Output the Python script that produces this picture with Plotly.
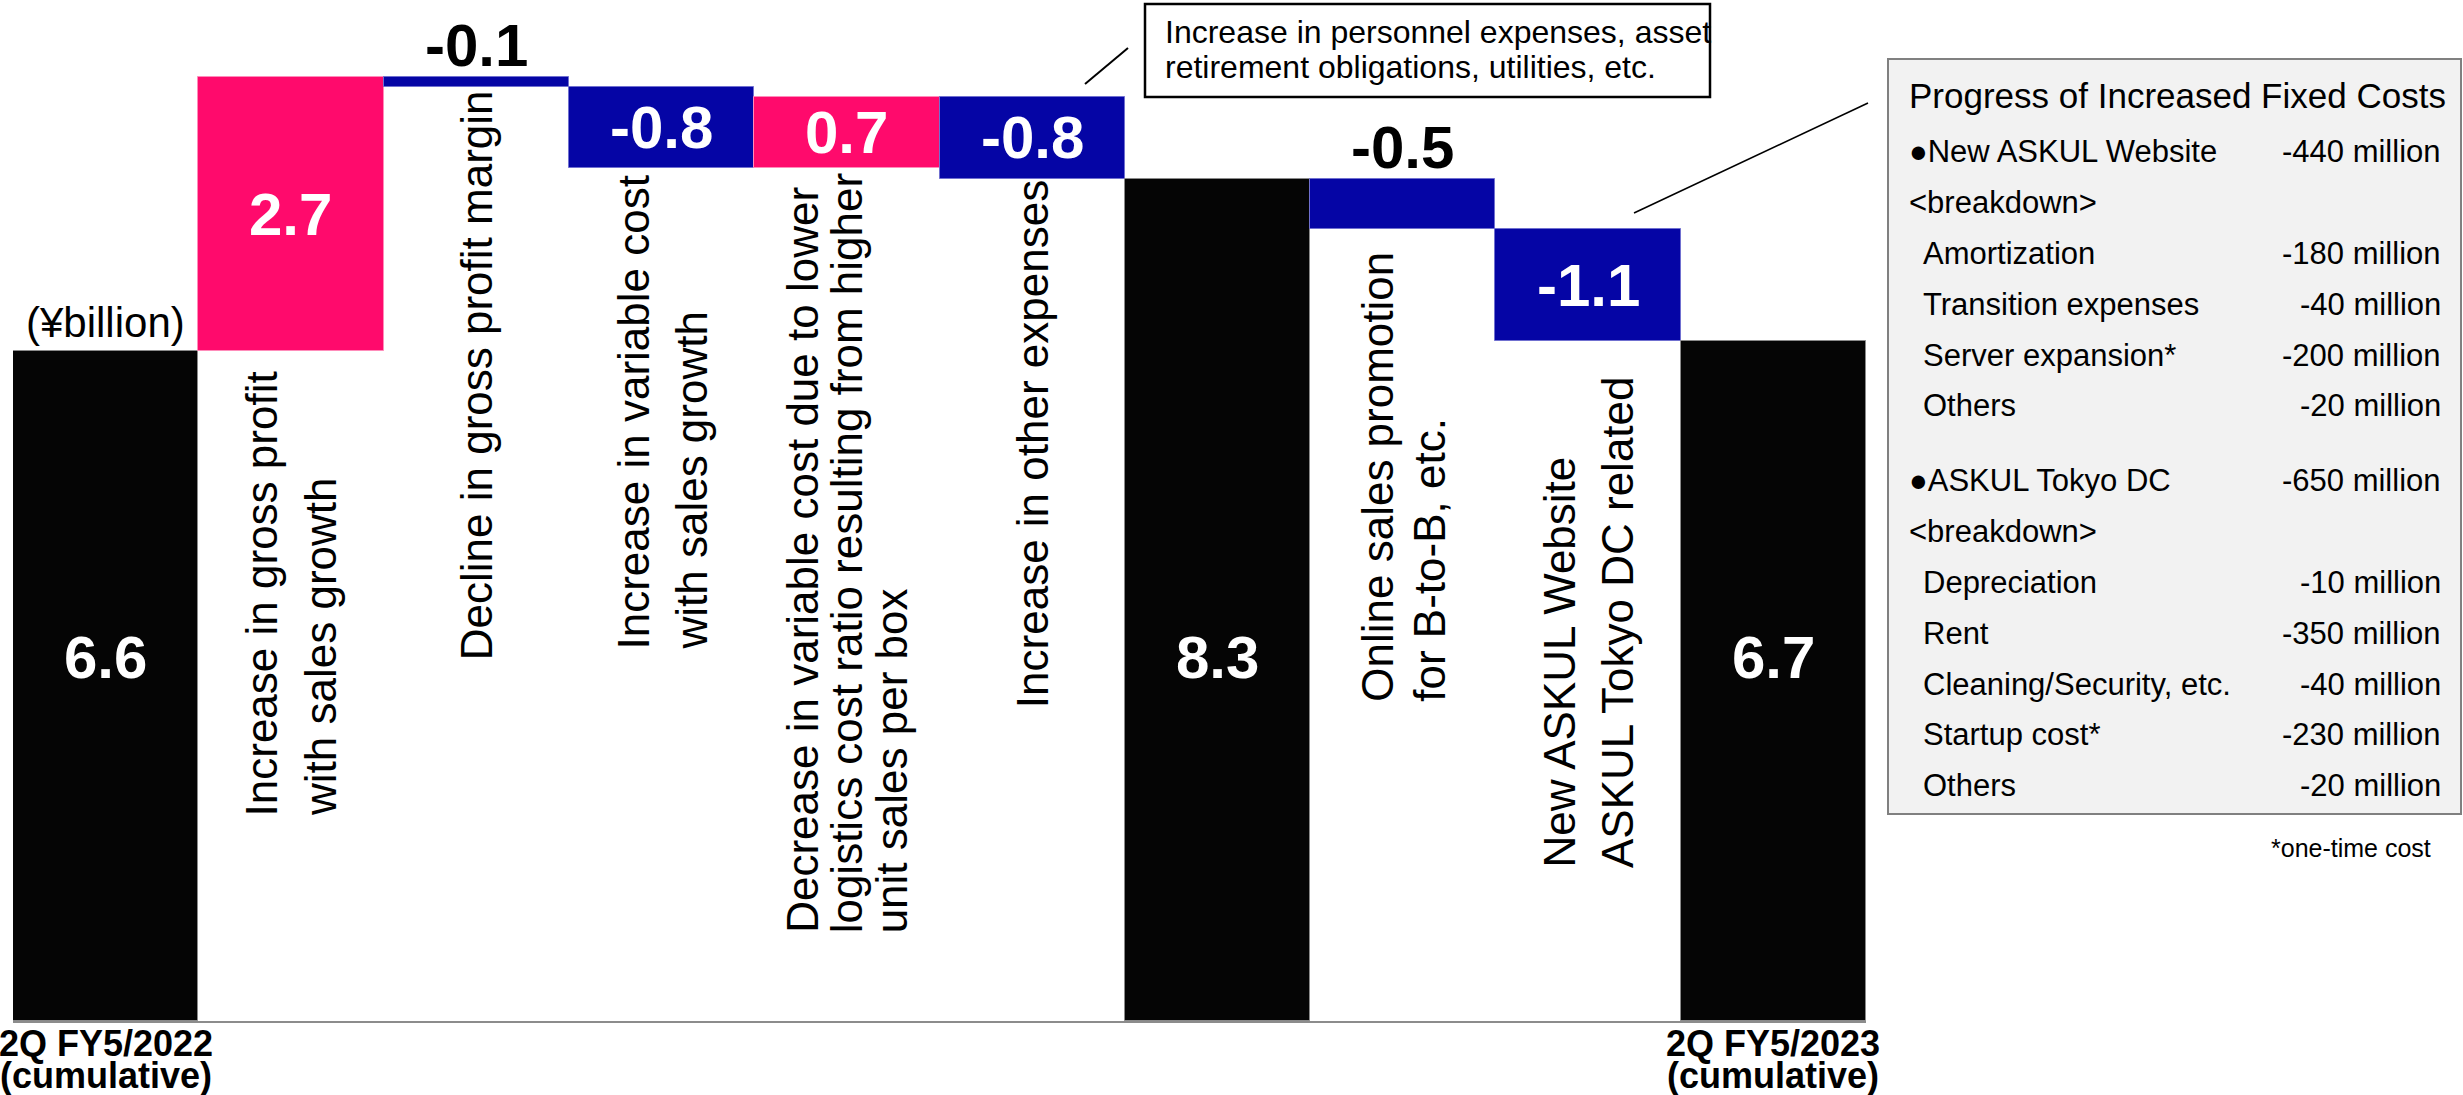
import plotly.graph_objects as go

# ---------------- data (¥billion) ----------------
step_values = [6.6, 2.7, -0.1, -0.8, 0.7, -0.8, 0, -0.5, -1.1, 0]
step_measures = ["absolute", "relative", "relative", "relative", "relative",
                 "relative", "total", "relative", "relative", "total"]
step_label_lines = [
    [],
    ["Increase in gross profit", "with sales growth"],
    ["Decline in gross profit margin"],
    ["Increase in variable cost", "with sales growth"],
    ["Decrease in variable cost due to lower",
     "logistics cost ratio resulting from higher",
     "unit sales per box"],
    ["Increase in other expenses"],
    [],
    ["Online sales promotion", "for B-to-B, etc."],
    ["New ASKUL Website", "ASKUL Tokyo DC related"],
    [],
]
period_labels = {0: ["2Q FY5/2022", "(cumulative)"],
                 9: ["2Q FY5/2023", "(cumulative)"]}
unit_label = "(¥billion)"

other_expense_note = ["Increase in personnel expenses, asset",
                      "retirement obligations, utilities, etc."]

fixed_cost_title = "Progress of Increased Fixed Costs"
fixed_cost_items = ["●New ASKUL Website", "<breakdown>", "Amortization",
                    "Transition expenses", "Server expansion*", "Others",
                    "●ASKUL Tokyo DC", "<breakdown>", "Depreciation", "Rent",
                    "Cleaning/Security, etc.", "Startup cost*", "Others"]
fixed_cost_amounts = ["-440 million", "", "-180 million", "-40 million",
                      "-200 million", "-20 million", "-650 million", "",
                      "-10 million", "-350 million", "-40 million",
                      "-230 million", "-20 million"]
fixed_cost_footnote = "*one-time cost"

# ---------------- styling ----------------
W, H = 2463, 1095
BASE_PX = 1021          # pixel row of the zero line
PX_PER_UNIT = 101.5     # vertical pixels per ¥1 billion
X0_PX, X1_PX = 13, 1866

PINK, BLUE, BLACK = "#FF0A6C", "#0505A5", "#050505"
SANS = "Liberation Sans, Arial, sans-serif"

# start (lower end) of the rotated step captions and their line pitch, px
label_start_px = [None, 818, 662, 652, 935, 710, None, 704, 870, None]
label_pitch_px = [0, 58, 0, 58, 45, 0, 0, 52, 58, 0]
row_indent = [0, 0, 1, 1, 1, 1, 0, 0, 1, 1, 1, 1, 1]
row_group = [0, 0, 0, 0, 0, 0, 1, 1, 1, 1, 1, 1, 1]


def y_of(px):
    return (BASE_PX - px) / PX_PER_UNIT


def pxx(px):
    return px / W


def pxy(px):
    return 1 - px / H


def esc(s):
    return s.replace("&", "&amp;").replace("<", "&lt;").replace(">", "&gt;")


x = list(range(len(step_values)))

fig = go.Figure(go.Waterfall(
    x=x, y=step_values, measure=step_measures,
    increasing=dict(marker=dict(color=PINK, line=dict(color="#FF8CBA", width=1))),
    decreasing=dict(marker=dict(color=BLUE, line=dict(color="#7070D0", width=1))),
    totals=dict(marker=dict(color=BLACK, line=dict(color="#8A8A8A", width=1))),
    connector=dict(visible=False),
    textinfo="none", hoverinfo="skip",
))

annotations = []
shapes = []

# running level of the waterfall, used to place the value captions
level = 0.0
for k, (v, m) in enumerate(zip(step_values, step_measures)):
    if m == "absolute":
        lo, hi, val = 0.0, v, v
        level = v
    elif m == "total":
        lo, hi, val = 0.0, level, level
    else:
        lo, hi = sorted([level, level + v])
        val = v
        level += v
    txt = f"<b>{val:.1f}</b>"
    if m != "relative":
        annotations.append(dict(x=k, y=y_of(657), text=txt, showarrow=False,
                                xanchor="center", yanchor="middle",
                                font=dict(family=SANS, size=60, color="white")))
    elif abs(v) >= 0.6:
        annotations.append(dict(x=k, y=(lo + hi) / 2, text=txt, showarrow=False,
                                xanchor="center", yanchor="middle",
                                font=dict(family=SANS, size=60, color="white")))
    else:
        annotations.append(dict(x=k, y=hi, xanchor="center", yanchor="bottom",
                                yshift=-4, text=txt, showarrow=False,
                                font=dict(family=SANS, size=60, color="black")))

    lines = step_label_lines[k]
    n = len(lines)
    for i, line in enumerate(lines):
        annotations.append(dict(
            x=k, y=y_of(label_start_px[k]), xanchor="center", yanchor="bottom",
            xshift=(i - (n - 1) / 2) * label_pitch_px[k], textangle=-90,
            text=line, showarrow=False,
            font=dict(family=SANS, size=44, color="black")))

# period captions under the first and last bars
for k, lines in period_labels.items():
    for i, line in enumerate(lines):
        annotations.append(dict(
            x=k, xref="x", y=pxy(1043 + i * 32), yref="paper",
            xanchor="center", yanchor="middle", text=f"<b>{line}</b>",
            showarrow=False, font=dict(family=SANS, size=36, color="black")))

annotations.append(dict(x=pxx(106), y=pxy(322), xref="paper", yref="paper",
                        xanchor="center", yanchor="middle",
                        text=unit_label, showarrow=False,
                        font=dict(family=SANS, size=42, color="black")))

# note box for other expenses
shapes.append(dict(type="rect", xref="paper", yref="paper",
                   x0=pxx(1145), x1=pxx(1710), y0=pxy(4), y1=pxy(97),
                   line=dict(color="black", width=2.5), fillcolor="white"))
for i, line in enumerate(other_expense_note):
    annotations.append(dict(x=pxx(1163), y=pxy(32 + i * 35), xref="paper", yref="paper",
                            xanchor="left", yanchor="middle", text=line, showarrow=False,
                            font=dict(family=SANS, size=32, color="black")))
shapes.append(dict(type="line", xref="paper", yref="paper",
                   x0=pxx(1128), y0=pxy(48), x1=pxx(1085), y1=pxy(84),
                   line=dict(color="black", width=2)))

# fixed cost breakdown panel
shapes.append(dict(type="rect", xref="paper", yref="paper",
                   x0=pxx(1888), x1=pxx(2461), y0=pxy(59), y1=pxy(814),
                   line=dict(color="#808080", width=2), fillcolor="#F2F2F2"))
shapes.append(dict(type="line", xref="paper", yref="paper",
                   x0=pxx(1634), y0=pxy(213), x1=pxx(1868), y1=pxy(103),
                   line=dict(color="black", width=1.5)))
annotations.append(dict(x=pxx(1907), y=pxy(96), xref="paper", yref="paper",
                        xanchor="left", yanchor="middle", text=fixed_cost_title,
                        showarrow=False, font=dict(family=SANS, size=35, color="black")))
for i, (item, amt) in enumerate(zip(fixed_cost_items, fixed_cost_amounts)):
    ypx = 152 + i * 50.8 + row_group[i] * 24
    annotations.append(dict(x=pxx(1907 + 14 * row_indent[i]), y=pxy(ypx),
                            xref="paper", yref="paper", xanchor="left", yanchor="middle",
                            text=esc(item), showarrow=False,
                            font=dict(family=SANS, size=31, color="black")))
    if amt:
        annotations.append(dict(x=pxx(2443), y=pxy(ypx), xref="paper", yref="paper",
                                xanchor="right", yanchor="middle", text=amt,
                                showarrow=False,
                                font=dict(family=SANS, size=31, color="black")))
annotations.append(dict(x=pxx(2433), y=pxy(848), xref="paper", yref="paper",
                        xanchor="right", yanchor="middle", text=fixed_cost_footnote,
                        showarrow=False, font=dict(family=SANS, size=25, color="black")))

fig.update_layout(
    width=W, height=H, margin=dict(l=0, r=0, t=0, b=0),
    paper_bgcolor="white", plot_bgcolor="white",
    waterfallgap=0, showlegend=False,
    xaxis=dict(domain=[X0_PX / W, X1_PX / W], range=[-0.5, len(x) - 0.5],
               showgrid=False, zeroline=False, showticklabels=False, ticks="",
               showline=True, linecolor="#8C8C8C", linewidth=2),
    yaxis=dict(domain=[(H - BASE_PX) / H, 1], range=[0, BASE_PX / PX_PER_UNIT],
               visible=False),
    annotations=annotations, shapes=shapes,
)

fig.write_html("out.html")
